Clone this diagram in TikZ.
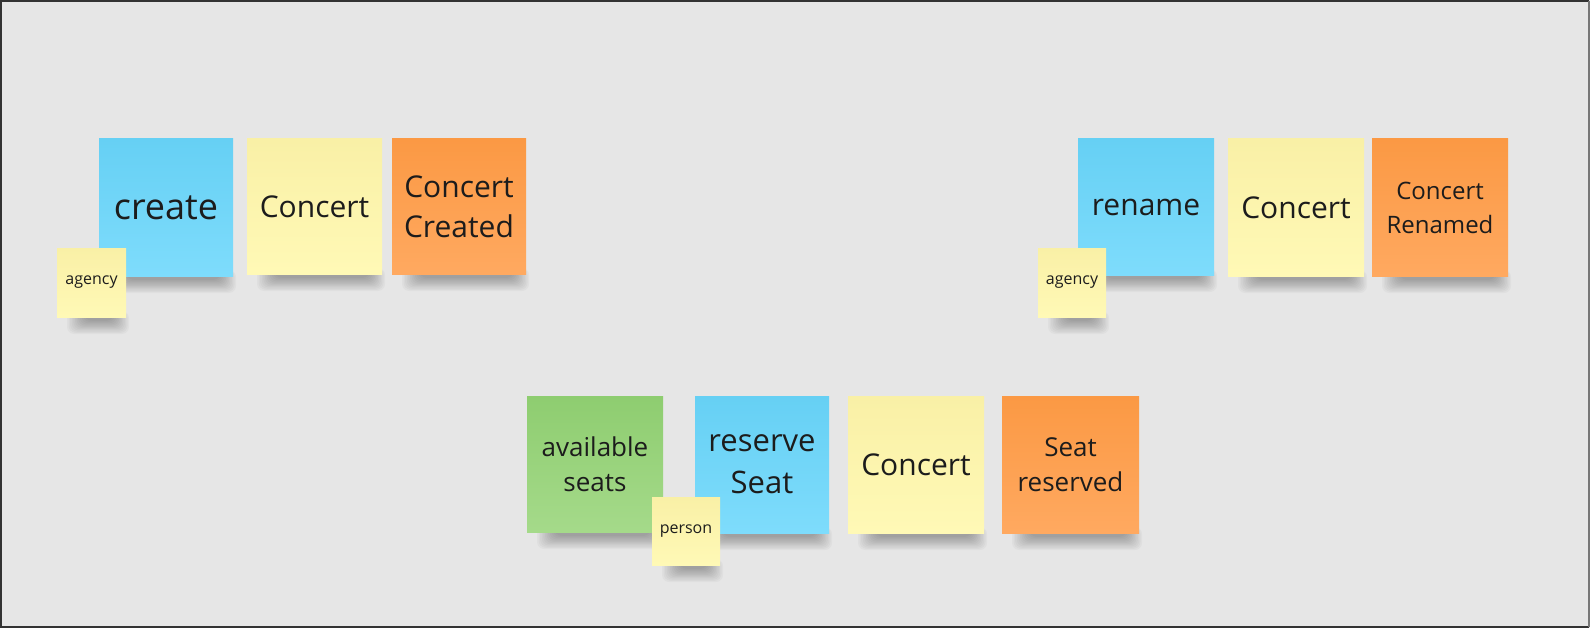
\documentclass[tikz,border=0pt]{standalone}
\usepackage{fontspec}
\setmainfont{Open Sans}
\definecolor{bg}{HTML}{E6E6E6}
\definecolor{frameA}{HTML}{333333}
\definecolor{frameB}{HTML}{777777}
\definecolor{blueT}{HTML}{66D0F4}
\definecolor{blueB}{HTML}{7EDCFC}
\definecolor{yelT}{HTML}{F9F0A6}
\definecolor{yelB}{HTML}{FFF9B6}
\definecolor{oraT}{HTML}{FB9944}
\definecolor{oraB}{HTML}{FFA960}
\definecolor{greT}{HTML}{8ECD70}
\definecolor{greB}{HTML}{A5DA8A}
\definecolor{ink}{HTML}{1C1C1C}
\tikzset{
  stickybox/.style={inner sep=0pt, outer sep=0pt, align=center, text=ink},
  shadowpart/.style={fill=black, opacity=0.028, rounded corners=7bp},
}
% name, l, t, r, b, colour, size, leading, text
\newcommand\sticky[9]{%
  \foreach \k in {0,...,11}{%
    \fill[shadowpart] ({#2+10+1.6*\k},{#5-6}) rectangle ({#4+3-1.4*\k},{#5+17-1.2*\k});
  }%
  \node[stickybox, top color=#6T, bottom color=#6B,
        font={\fontsize{#7bp}{#8bp}\selectfont},
        minimum width={(#4-#2)*1bp}, minimum height={(#5-#3)*1bp}]
    (#1) at ({(#2+#4)/2},{(#3+#5)/2}) {#9};%
}
\begin{document}
\begin{tikzpicture}[x=1bp,y=-1bp]
  \useasboundingbox (0,0) rectangle (1590,628);
  \fill[bg] (0,0) rectangle (1590,628);
  \draw[frameA, line width=2bp] (1589,1) -- (1,1) -- (1,627) -- (1589,627);
  \draw[frameB, line width=2bp] (1589,1) -- (1589,627);

  % top-left group
  \sticky{create}{99}{139}{233}{276}{blue}{36}{48}{create}
  \sticky{concertA}{247}{139}{382}{274}{yel}{30}{40}{Concert}
  \sticky{created}{392}{139}{526}{274}{ora}{30}{40}{Concert\\Created}
  \sticky{agencyA}{57}{248}{126}{317}{yel}{16}{21}{agency}

  % top-right group
  \sticky{rename}{1078}{139}{1214}{275}{blue}{30}{40}{rename}
  \sticky{concertB}{1228}{139}{1364}{276}{yel}{30}{40}{Concert}
  \sticky{renamed}{1372}{139}{1508}{276}{ora}{24}{34}{Concert\\Renamed}
  \sticky{agencyB}{1038}{248}{1106}{317}{yel}{16}{21}{agency}

  % bottom group
  \sticky{seats}{527}{396}{663}{532}{gre}{26}{35}{available\\seats}
  \sticky{reserve}{695}{396}{829}{533}{blue}{31}{42}{reserve\\Seat}
  \sticky{person}{652}{497}{720}{565}{yel}{16}{21}{person}
  \sticky{concertC}{848}{396}{984}{533}{yel}{30}{40}{Concert}
  \sticky{reserved}{1002}{396}{1139}{533}{ora}{26}{35}{Seat\\reserved}
\end{tikzpicture}
\end{document}
